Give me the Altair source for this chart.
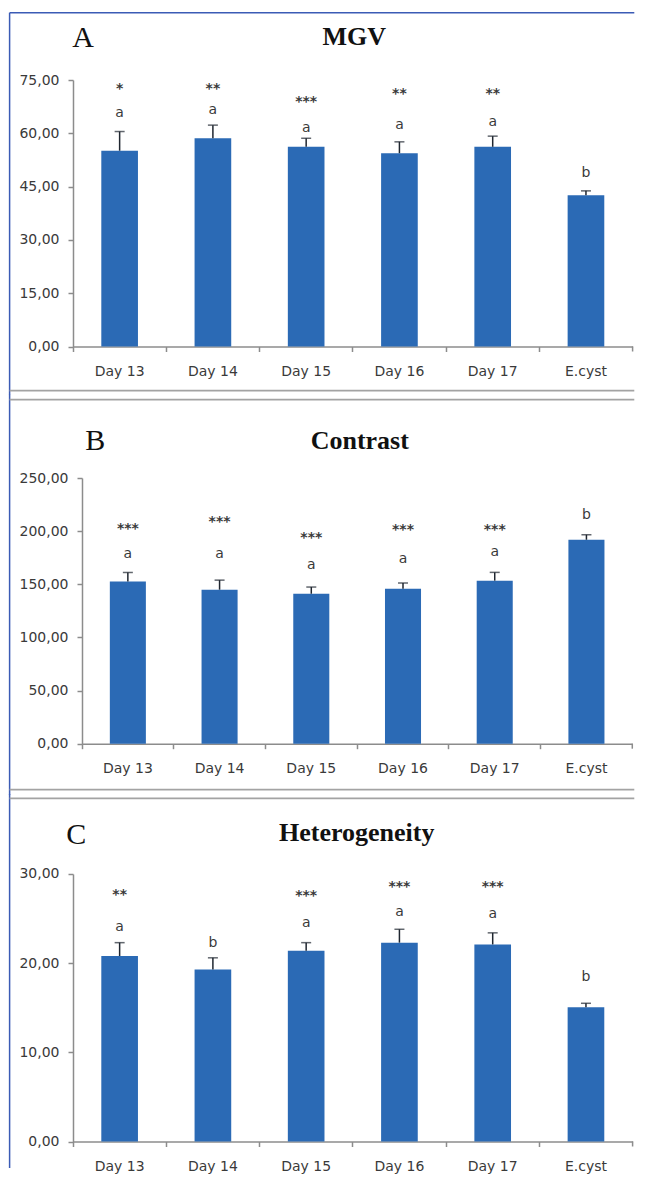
import altair as alt
import pandas as pd

categories = ["Day 13", "Day 14", "Day 15", "Day 16", "Day 17", "E.cyst"]

# Panel A - MGV
mgv_mean = [55.1, 58.6, 56.2, 54.4, 56.2, 42.6]
mgv_se = [5.4, 3.7, 2.4, 3.2, 3.0, 1.2]
mgv_letters = ["a", "a", "a", "a", "a", "b"]
mgv_letter_y = [65.6, 66.6, 61.4, 62.3, 63.3, 48.7]
mgv_stars = ["*", "**", "***", "**", "**", ""]
mgv_star_y = [73.6, 73.6, 69.9, 72.2, 72.2, 0]

# Panel B - Contrast
con_mean = [152.7, 144.9, 141.1, 145.8, 153.4, 191.9]
con_se = [8.4, 9.0, 6.3, 5.4, 7.8, 4.7]
con_letters = ["a", "a", "a", "a", "a", "b"]
con_letter_y = [178.7, 178.7, 168.4, 174.0, 180.3, 215.4]
con_stars = ["***", "***", "***", "***", "***", ""]
con_star_y = [205.4, 212.3, 197.6, 204.4, 204.4, 0]

# Panel C - Heterogeneity
het_mean = [20.8, 19.3, 21.4, 22.3, 22.1, 15.05]
het_se = [1.5, 1.3, 0.9, 1.5, 1.3, 0.45]
het_letters = ["a", "b", "a", "a", "a", "b"]
het_letter_y = [24.0, 22.3, 24.5, 25.7, 25.5, 18.4]
het_stars = ["**", "", "***", "***", "***", ""]
het_star_y = [28.1, 0, 28.0, 29.0, 29.0, 0]

BAR = "#2B6AB5"
ERR = "#1f2630"
AXC = "#8c8c8c"
TXT = "#3a3a3a"
BLUE = "#3B5BB5"
SEP = "#a3a3a3"
SANS = "DejaVu Sans"
SERIF = "Liberation Serif"

ORIGIN_X = 72.7   # common plot origin (page px)
W = 559.6

panels_spec = [
    dict(mean=mgv_mean, se=mgv_se, letters=mgv_letters, letter_y=mgv_letter_y,
         stars=mgv_stars, star_y=mgv_star_y, dmax=75, step=15,
         top=80.0, rng=(0.0, 559.6), H=266.5,
         sec=(12.7, 395.0), seps=[390.7], topline=12.7,
         letter="A", letter_xy=(72.0, 47.0), title="MGV", title_xy=(354.0, 45.0)),
    dict(mean=con_mean, se=con_se, letters=con_letters, letter_y=con_letter_y,
         stars=con_stars, star_y=con_star_y, dmax=250, step=50,
         top=478.3, rng=(9.0, 559.3), H=265.7,
         sec=(395.0, 795.0), seps=[400.0, 790.0], topline=None,
         letter="B", letter_xy=(85.0, 450.0), title="Contrast", title_xy=(359.5, 449.0)),
    dict(mean=het_mean, se=het_se, letters=het_letters, letter_y=het_letter_y,
         stars=het_stars, star_y=het_star_y, dmax=30, step=10,
         top=875.0, rng=(0.0, 559.6), H=267.5,
         sec=(795.0, 1169.0), seps=[799.3], topline=None,
         letter="C", letter_xy=(66.0, 845.0), title="Heterogeneity", title_xy=(356.5, 842.0)),
]


def make_panel(p):
    top, H = p["top"], p["H"]
    r0, r1 = p["rng"]

    def rx(v):
        return v - ORIGIN_X

    def ry(v):
        return v - top

    df = pd.DataFrame({"cat": categories, "mean": p["mean"], "se": p["se"]})
    lab = pd.DataFrame({"cat": categories, "lab": p["letters"], "ly": p["letter_y"]})
    st = pd.DataFrame({"cat": categories, "lab": p["stars"], "sy": p["star_y"]})
    st = st[st["lab"] != ""]

    xaxis = alt.Axis(title=None, labelAngle=0, bandPosition=0, tickSize=5, labelPadding=13,
                     labelFont=SANS, labelFontSize=14, labelColor=TXT,
                     domainColor=AXC, domainWidth=1.5, tickColor=AXC, tickWidth=1.5)
    yaxis = alt.Axis(title=None, values=list(range(0, p["dmax"] + 1, p["step"])), grid=False,
                     labelExpr="replace(format(datum.value, '.2f'), '.', ',')",
                     offset=-r0,
                     tickSize=5, labelPadding=9, labelFont=SANS, labelFontSize=14, labelColor=TXT,
                     domainColor=AXC, domainWidth=1.5, tickColor=AXC, tickWidth=1.5)
    xs = alt.Scale(paddingInner=0, paddingOuter=0, range=[r0, r1])
    ys = alt.Scale(domain=[0, p["dmax"]], nice=False, zero=True)

    X = alt.X("cat:N", sort=categories, scale=xs, axis=xaxis, title=None)

    def Xn():
        return alt.X("cat:N", sort=categories, title=None)

    bars = alt.Chart(df).mark_bar(color=BAR, width={"band": 0.393}).encode(
        x=X, y=alt.Y("mean:Q", scale=ys, axis=yaxis, title=None))
    whisk = alt.Chart(df).transform_calculate(up="datum.mean + datum.se").mark_rule(
        color=ERR, strokeWidth=1.5).encode(x=Xn(), y=alt.Y("mean:Q", title=None), y2="up:Q")
    cap = alt.Chart(df).transform_calculate(up="datum.mean + datum.se").mark_tick(
        color=ERR, thickness=1.5, size=10).encode(x=Xn(), y=alt.Y("up:Q", title=None))
    letters_t = alt.Chart(lab).mark_text(font=SANS, fontSize=14, color=TXT, baseline="middle").encode(
        x=Xn(), y=alt.Y("ly:Q", title=None), text="lab:N")
    stars_t = alt.Chart(st).mark_text(font=SANS, fontSize=14, color=TXT, baseline="middle", dy=4,
                                      fontWeight="bold").encode(
        x=Xn(), y=alt.Y("sy:Q", title=None), text="lab:N")

    deco = alt.Chart(pd.DataFrame({"k": [0]}))
    layers = [bars, whisk, cap, letters_t, stars_t]
    layers.append(deco.mark_rule(color=AXC, strokeWidth=1.5).encode(
        x=alt.value(r1), y=alt.value(H), y2=alt.value(H + 5)))
    layers.append(deco.mark_rule(color=BLUE, strokeWidth=1.5).encode(
        x=alt.value(rx(9.3)), y=alt.value(ry(p["sec"][0])), y2=alt.value(ry(p["sec"][1]))))
    for s in p["seps"]:
        layers.append(deco.mark_rule(color=SEP, strokeWidth=1.8).encode(
            x=alt.value(rx(9.3)), x2=alt.value(rx(634)), y=alt.value(ry(s))))
    if p["topline"] is not None:
        layers.append(deco.mark_rule(color=BLUE, strokeWidth=1.5).encode(
            x=alt.value(rx(9.3)), x2=alt.value(rx(634)), y=alt.value(ry(p["topline"]))))
    lx, ly = p["letter_xy"]
    layers.append(deco.mark_text(font=SERIF, fontSize=30, color="#111", align="left",
                                 baseline="alphabetic").encode(
        x=alt.value(rx(lx)), y=alt.value(ry(ly)), text=alt.value(p["letter"])))
    tx, ty = p["title_xy"]
    layers.append(deco.mark_text(font=SERIF, fontSize=26, fontWeight="bold", color="#111",
                                 align="center", baseline="alphabetic").encode(
        x=alt.value(rx(tx)), y=alt.value(ry(ty)), text=alt.value(p["title"])))
    return alt.layer(*layers).properties(width=W, height=H)


chart = alt.vconcat(*[make_panel(p) for p in panels_spec], spacing=-3).properties(
    padding={"left": 0, "top": 3, "right": 0, "bottom": 0},
    background="white",
).configure_view(stroke=None)

chart.save("out.html", embed_options={"renderer": "svg", "actions": False})
